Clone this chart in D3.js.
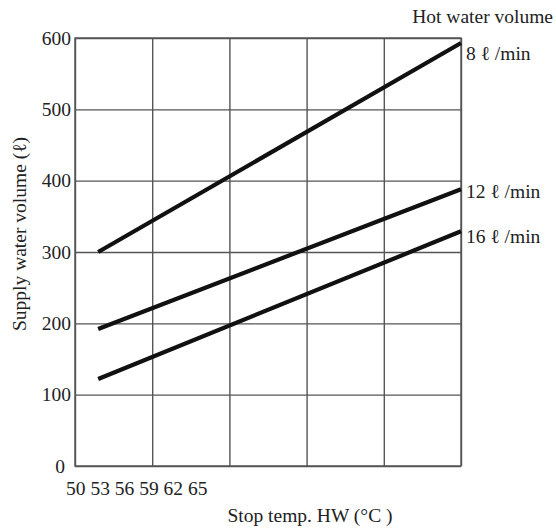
<!DOCTYPE html>
<html>
<head>
<meta charset="utf-8">
<script src="https://cdn.jsdelivr.net/npm/d3@7"></script>
<style>
  body { margin: 0; background: #fff; }
  text { font-family: "Liberation Serif", "Times New Roman", serif; fill: #222; }
</style>
</head>
<body>
<div id="chart"></div>
<script>
// data
var temps = [53, 100];
var vol8 = [300, 593];
var vol12 = [192, 388];
var vol16 = [122, 329];
var seriesNames = ["8 \u2113 /min", "12 \u2113 /min", "16 \u2113 /min"];
var yTicks = [0, 100, 200, 300, 400, 500, 600];
var xGrid = [50, 60, 70, 80, 90, 100];
var xTickLabels = ["50", "53", "56", "59", "62", "65"];

var svgWidth = 556;
var svgHeight = 529;
var margin = { top: 38, right: 95, bottom: 63, left: 75 };
var width = svgWidth - margin.left - margin.right;
var height = svgHeight - margin.top - margin.bottom;
var fontSize = "19.5px";

var svg = d3.select("#chart")
  .append("svg")
  .attr("width", svgWidth)
  .attr("height", svgHeight);

var chartGroup = svg.append("g")
  .attr("transform", `translate(${margin.left}, ${margin.top})`);

var xScale = d3.scaleLinear().domain([50, 100]).range([0, width]);
var yScale = d3.scaleLinear().domain([0, 600]).range([height, 0]);

// vertical grid
var xAxis = chartGroup.append("g")
  .call(d3.axisBottom(xScale).tickValues(xGrid).tickSize(height).tickFormat(""));
xAxis.selectAll(".tick line").attr("y1", 0).attr("y2", height);

// horizontal grid + labels
var yAxis = chartGroup.append("g")
  .call(d3.axisLeft(yScale).tickValues(yTicks).tickSize(-width).tickPadding(4));
yAxis.selectAll(".tick text")
  .style("font-size", fontSize)
  .style("font-family", "'Liberation Serif', 'Times New Roman', serif")
  .attr("fill", "#222")
  .attr("dx", d => d === 0 ? -6 : 0);

chartGroup.selectAll(".domain").remove();
chartGroup.selectAll(".tick line").attr("stroke", "#555").attr("stroke-width", 1.4);

// frame
chartGroup.append("rect")
  .attr("width", width)
  .attr("height", height)
  .attr("fill", "none")
  .attr("stroke", "#555")
  .attr("stroke-width", 1.4);

// lines
var series = [vol8, vol12, vol16];
var line = d3.line()
  .x((d, i) => xScale(temps[i]))
  .y(d => yScale(d));

chartGroup.selectAll(".series")
  .data(series)
  .enter()
  .append("path")
  .attr("class", "series")
  .attr("d", d => line(d))
  .attr("fill", "none")
  .attr("stroke", "#111")
  .attr("stroke-width", 4.2);

// series labels at line ends
var labelOffsets = [10, 2, 5];
chartGroup.selectAll(".slabel")
  .data(series)
  .enter()
  .append("text")
  .attr("class", "slabel")
  .attr("x", width + 5)
  .attr("y", (d, i) => yScale(d[d.length - 1]) + labelOffsets[i])
  .attr("dy", "0.35em")
  .style("font-size", fontSize)
  .text((d, i) => seriesNames[i]);

// legend title
svg.append("text")
  .attr("x", 553)
  .attr("y", 23)
  .attr("text-anchor", "end")
  .style("font-size", fontSize)
  .text("Hot water volume");

// x tick label row
svg.append("text")
  .attr("x", 66)
  .attr("y", 495)
  .style("font-size", fontSize)
  .text(xTickLabels.join(" "));

// axis titles
svg.append("text")
  .attr("x", 310)
  .attr("y", 522)
  .attr("text-anchor", "middle")
  .style("font-size", fontSize)
  .text("Stop temp. HW (\u00b0C )");

svg.append("text")
  .attr("transform", "rotate(-90)")
  .attr("x", -234)
  .attr("y", 26)
  .attr("text-anchor", "middle")
  .style("font-size", fontSize)
  .text("Supply water volume (\u2113)");
</script>
</body>
</html>
